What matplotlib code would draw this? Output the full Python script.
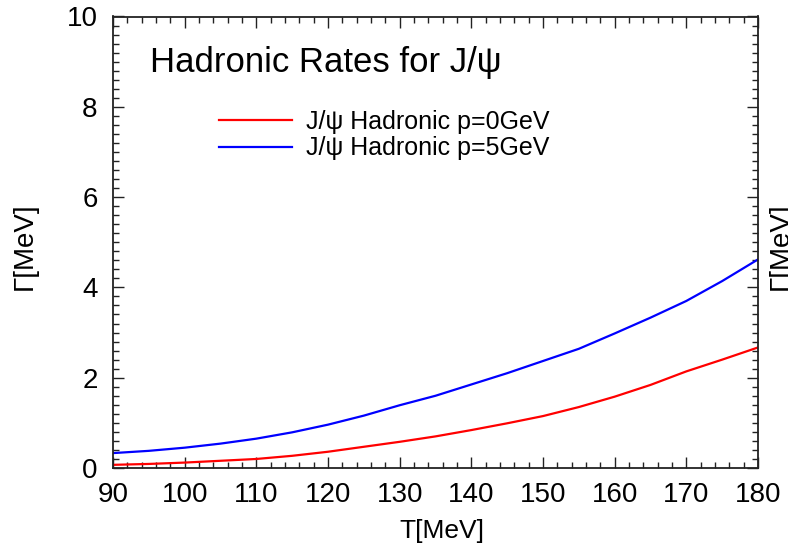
import matplotlib
matplotlib.use("Agg")
import matplotlib.pyplot as plt
from matplotlib.ticker import MultipleLocator

plt.rcParams['font.family'] = ['Liberation Sans', 'DejaVu Sans']

# Temperature grid (MeV) and hadronic widths (MeV)
temperature = [90, 95, 100, 105, 110, 115, 120, 125, 130, 135, 140, 145,
               150, 155, 160, 165, 170, 175, 180]
width_p0 = [0.07, 0.09, 0.12, 0.16, 0.20, 0.27, 0.36, 0.47, 0.58, 0.70, 0.84, 0.99,
            1.15, 1.35, 1.58, 1.84, 2.14, 2.40, 2.67]
width_p5 = [0.33, 0.38, 0.45, 0.54, 0.65, 0.79, 0.96, 1.16, 1.39, 1.60, 1.85, 2.10,
            2.37, 2.64, 2.98, 3.33, 3.70, 4.14, 4.62]

series_labels = ["J/\u03c8 Hadronic p=0GeV", "J/\u03c8 Hadronic p=5GeV"]
series_colors = ["#ff0000", "#0000ff"]

fig = plt.figure(figsize=(7.88, 5.51), dpi=100)
ax = fig.add_axes([113 / 788, 1 - 468 / 551, (758 - 113) / 788, (468 - 16.5) / 551])

lines = []
for y, lab, col in zip([width_p0, width_p5], series_labels, series_colors):
    ln, = ax.plot(temperature, y, color=col, lw=1.6, label=lab,
                  solid_joinstyle='round')
    lines.append(ln)

ax.set_xlim(90, 180)
ax.set_ylim(0, 10)
ax.xaxis.set_major_locator(MultipleLocator(10))
ax.xaxis.set_minor_locator(MultipleLocator(2))
ax.yaxis.set_major_locator(MultipleLocator(2))
ax.yaxis.set_minor_locator(MultipleLocator(0.2))
ax.tick_params(which='both', direction='in', top=True, right=True,
               color='#222222', width=1.0)
ax.tick_params(which='major', length=8, labelsize=20)
ax.tick_params(axis='x', which='major', pad=10)
ax.tick_params(axis='y', which='major', pad=11)
ax.tick_params(which='minor', length=4)
for sp in ax.spines.values():
    sp.set_linewidth(1.3)
    sp.set_color('#222222')

fig.text(442 / 788, 1 - 531 / 551, "T[MeV]", fontsize=19, ha='center', va='center')
fig.text(25 / 788, 1 - 246 / 551, "\u0393[MeV]", rotation=90, fontsize=20,
         ha='center', va='center')
fig.text(781 / 788, 1 - 246 / 551, "\u0393[MeV]", rotation=90, fontsize=20,
         ha='center', va='center')

fig.text(150 / 788, 1 - 72 / 551, "Hadronic Rates for J/\u03c8", fontsize=25,
         ha='left', va='baseline')

ax.legend(handles=lines, loc='upper left', bbox_to_anchor=(96 / 645, 1 - 83 / 451.5),
          frameon=False, fontsize=18, handlelength=2.9, handletextpad=0.6,
          labelspacing=0.12, borderaxespad=0)

fig.savefig("out.png", dpi=100)
